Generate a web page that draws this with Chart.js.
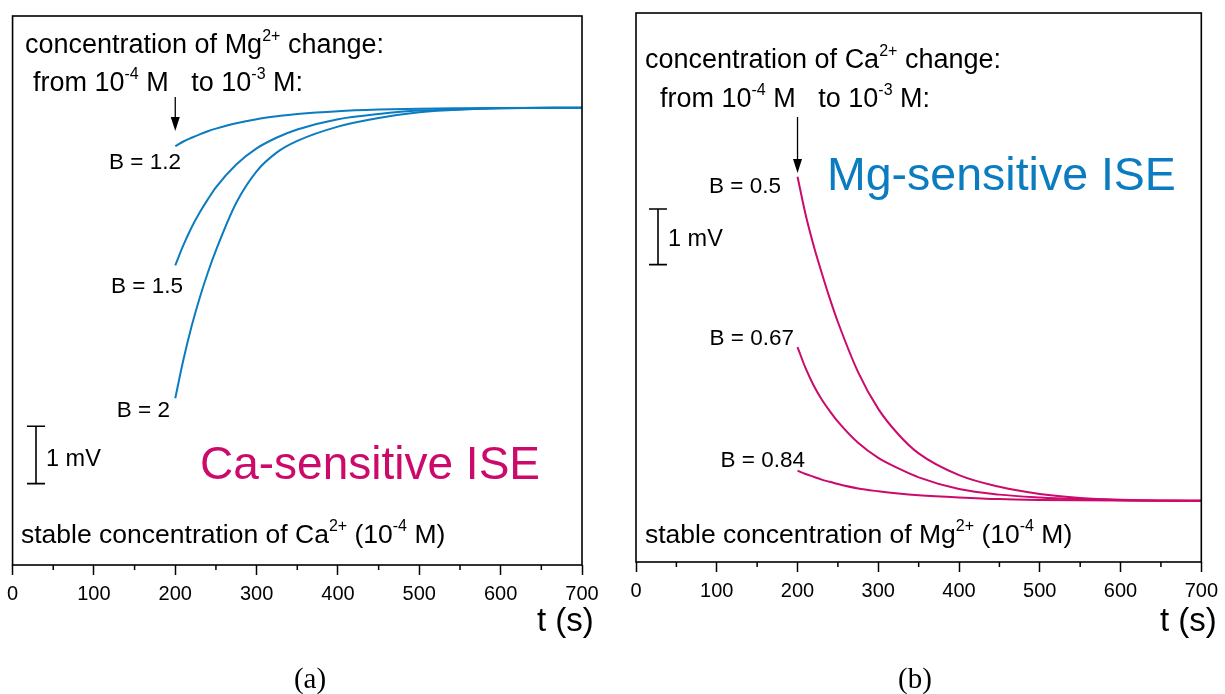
<!DOCTYPE html>
<html>
<head>
<meta charset="utf-8">
<title>ISE response to interfering ion steps</title>
<script src="https://cdn.jsdelivr.net/npm/chart.js@4.4.0/dist/chart.umd.min.js"></script>
<style>
    html, body { margin: 0; padding: 0; background: #fff; }
    #wrap { position: relative; width: 1225px; height: 694px; overflow: hidden; }
    canvas { position: absolute; top: 0; }
    #chartA { left: 0; }
    #chartB { left: 612px; }
</style>
</head>
<body>
<div id="wrap">
    <canvas id="chartA" width="612" height="694"></canvas>
    <canvas id="chartB" width="613" height="694"></canvas>
</div>
<script>
// Time points (s) after the concentration step at t = 200 s
const times = [200, 210, 220, 230, 240, 250, 275, 300, 325, 350, 400, 450, 500, 550, 600, 700];
const xTicks = [0, 100, 200, 300, 400, 500, 600, 700];
const xMinorTicks = [50, 150, 250, 350, 450, 550, 650];

// Ca-sensitive ISE, potential relative to the final level (mV)
const caB12 = [-0.67, -0.59, -0.525, -0.465, -0.41, -0.365, -0.27, -0.20, -0.15, -0.11, -0.06, -0.033, -0.018, -0.01, -0.005, 0];
const caB15 = [-2.75, -2.40, -2.09, -1.83, -1.60, -1.39, -0.99, -0.71, -0.52, -0.38, -0.20, -0.11, -0.05, -0.03, -0.01, 0];
const caB2  = [-5.07, -4.40, -3.82, -3.32, -2.88, -2.49, -1.66, -1.11, -0.78, -0.58, -0.33, -0.18, -0.08, -0.03, -0.01, 0];

// Mg-sensitive ISE, potential relative to the final level (mV)
const mgB05  = [5.82, 5.14, 4.58, 4.09, 3.63, 3.21, 2.31, 1.65, 1.19, 0.85, 0.46, 0.25, 0.12, 0.05, 0.02, 0];
const mgB067 = [2.76, 2.38, 2.07, 1.82, 1.61, 1.42, 1.04, 0.77, 0.58, 0.42, 0.21, 0.11, 0.06, 0.03, 0.01, 0];
const mgB084 = [0.54, 0.48, 0.43, 0.38, 0.34, 0.30, 0.22, 0.17, 0.13, 0.10, 0.06, 0.03, 0.015, 0.007, 0.003, 0];

const BLUE = '#0b7cc0';
const MAGENTA = '#cc0a6c';
const FONT = '"Liberation Sans", Arial, sans-serif';
const SERIF = '"Liberation Serif", serif';

function series(values, color) {
    return {
        data: times.map((t, i) => ({ x: t, y: values[i] })),
        borderColor: color,
        borderWidth: 2,
        pointRadius: 0,
        fill: false,
        cubicInterpolationMode: 'monotone'
    };
}

/**
 * Text with superscripts: parts are plain strings or {sup: '...'}
 */
function richText(ctx, parts, x, y, size, color) {
    ctx.save();
    ctx.fillStyle = color || '#000';
    ctx.textAlign = 'left';
    ctx.textBaseline = 'alphabetic';
    let cx = x;
    parts.forEach(p => {
        if (typeof p === 'string') {
            ctx.font = size + 'px ' + FONT;
            ctx.fillText(p, cx, y);
            cx += ctx.measureText(p).width;
        } else {
            ctx.font = Math.round(size * 0.6) + 'px ' + FONT;
            ctx.fillText(p.sup, cx, y - size * 0.45);
            cx += ctx.measureText(p.sup).width;
        }
    });
    ctx.restore();
}

function label(ctx, text, x, y, size, align, color, family) {
    ctx.save();
    ctx.font = size + 'px ' + (family || FONT);
    ctx.fillStyle = color || '#000';
    ctx.textAlign = align || 'left';
    ctx.textBaseline = 'alphabetic';
    ctx.fillText(text, x, y);
    ctx.restore();
}

function arrowDown(ctx, x, yTop, yTip) {
    ctx.save();
    ctx.strokeStyle = '#000';
    ctx.fillStyle = '#000';
    ctx.lineWidth = 1.3;
    ctx.beginPath();
    ctx.moveTo(x, yTop);
    ctx.lineTo(x, yTip - 12);
    ctx.stroke();
    ctx.beginPath();
    ctx.moveTo(x - 4.5, yTip - 14);
    ctx.lineTo(x + 4.5, yTip - 14);
    ctx.lineTo(x, yTip);
    ctx.closePath();
    ctx.fill();
    ctx.restore();
}

// 1 mV scale bar, drawn through the y scale
function scaleBar(ctx, yScale, x, vTop, vBottom) {
    const y0 = yScale.getPixelForValue(vTop);
    const y1 = yScale.getPixelForValue(vBottom);
    ctx.save();
    ctx.strokeStyle = '#000';
    ctx.lineWidth = 1.6;
    ctx.beginPath();
    ctx.moveTo(x, y0); ctx.lineTo(x, y1);
    ctx.moveTo(x - 9, y0); ctx.lineTo(x + 9, y0);
    ctx.moveTo(x - 9, y1); ctx.lineTo(x + 9, y1);
    ctx.stroke();
    ctx.restore();
}

// Frame around the plot area plus the short minor ticks
function frame(chart) {
    const ctx = chart.ctx;
    const a = chart.chartArea;
    const xs = chart.scales.x;
    ctx.save();
    ctx.strokeStyle = '#000';
    ctx.lineWidth = 1.6;
    ctx.strokeRect(a.left, a.top, a.right - a.left, a.bottom - a.top);
    ctx.lineWidth = 1.5;
    ctx.beginPath();
    xMinorTicks.forEach(v => {
        const px = xs.getPixelForValue(v);
        ctx.moveTo(px, a.bottom);
        ctx.lineTo(px, a.bottom + 5);
    });
    ctx.stroke();
    ctx.restore();
}

function decorateA(chart) {
    const ctx = chart.ctx;
    const xs = chart.scales.x, ys = chart.scales.y;
    frame(chart);
    richText(ctx, ['concentration of Mg', { sup: '2+' }, ' change:'], 25, 53, 27);
    richText(ctx, ['from 10', { sup: '-4' }, ' M   to 10', { sup: '-3' }, ' M:'], 33, 91, 27);
    arrowDown(ctx, xs.getPixelForValue(200), 97, 131);
    label(ctx, 'B = 1.2', 181, 169, 22.5, 'right');
    label(ctx, 'B = 1.5', 183, 293, 22.5, 'right');
    label(ctx, 'B = 2', 170, 417, 22.5, 'right');
    scaleBar(ctx, ys, 36, -5.56, -6.56);
    label(ctx, '1 mV', 46, 466, 23.5);
    label(ctx, 'Ca-sensitive ISE', 200, 479, 46, 'left', MAGENTA);
    richText(ctx, ['stable concentration of Ca', { sup: '2+' }, ' (10', { sup: '-4' }, ' M)'], 21, 543, 26.5);
    label(ctx, 't (s)', 537, 631, 33);
    label(ctx, '(a)', 310, 688, 29, 'center', '#000', SERIF);
}

function decorateB(chart) {
    const ctx = chart.ctx;
    const xs = chart.scales.x, ys = chart.scales.y;
    frame(chart);
    richText(ctx, ['concentration of Ca', { sup: '2+' }, ' change:'], 33, 68, 27);
    richText(ctx, ['from 10', { sup: '-4' }, ' M   to 10', { sup: '-3' }, ' M:'], 48, 107, 27);
    arrowDown(ctx, xs.getPixelForValue(200), 117, 173);
    label(ctx, 'B = 0.5', 169, 193, 22.5, 'right');
    label(ctx, 'Mg-sensitive ISE', 215, 190, 46.5, 'left', BLUE);
    scaleBar(ctx, ys, 46, 5.24, 4.24);
    label(ctx, '1 mV', 56, 246, 23.5);
    label(ctx, 'B = 0.67', 182, 345, 22.5, 'right');
    label(ctx, 'B = 0.84', 193, 467, 22.5, 'right');
    richText(ctx, ['stable concentration of Mg', { sup: '2+' }, ' (10', { sup: '-4' }, ' M)'], 33, 543, 26.5);
    label(ctx, 't (s)', 548, 631, 33);
    label(ctx, '(b)', 303, 688, 29, 'center', '#000', SERIF);
}

function makePanel(id, datasets, yMin, yMax, padding, axisHeight, decorate) {
    return new Chart(document.getElementById(id), {
        type: 'line',
        data: { datasets: datasets },
        options: {
            responsive: false,
            animation: false,
            layout: { padding: padding },
            plugins: {
                legend: { display: false },
                tooltip: { enabled: false }
            },
            scales: {
                x: {
                    type: 'linear',
                    min: 0,
                    max: 700,
                    afterFit: function(scale) { scale.height = axisHeight; },
                    afterBuildTicks: function(scale) {
                        scale.ticks = xTicks.map(v => ({ value: v }));
                    },
                    ticks: {
                        color: '#000',
                        font: { family: FONT, size: 20 },
                        padding: 7,
                        maxRotation: 0,
                        autoSkip: false
                    },
                    grid: {
                        drawOnChartArea: false,
                        tickLength: 10,
                        tickWidth: 1.5,
                        tickColor: '#000'
                    },
                    border: { display: false }
                },
                y: {
                    display: false,
                    min: yMin,
                    max: yMax
                }
            }
        },
        plugins: [{ id: 'decor', afterDraw: decorate }]
    });
}

makePanel('chartA',
    [series(caB12, BLUE), series(caB15, BLUE), series(caB2, BLUE)],
    -7.98, 1.60,
    { left: 12, right: 30, top: 16, bottom: 0 }, 129, decorateA);

makePanel('chartB',
    [series(mgB05, MAGENTA), series(mgB067, MAGENTA), series(mgB084, MAGENTA)],
    -1.10, 8.76,
    { left: 24, right: 20, top: 13, bottom: 0 }, 132, decorateB);
</script>
</body>
</html>
